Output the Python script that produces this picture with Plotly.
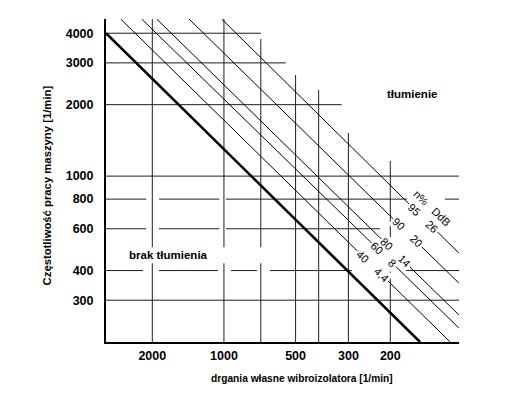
import numpy as np
import plotly.graph_objects as go

# ---- tick labels ----
x_ticks = [2000, 1000, 500, 300, 200]
y_ticks = [300, 400, 600, 800, 1000, 2000, 3000, 4000]

# ---- isolation lines (efficiency n %, attenuation D dB) ----
eff_pct = ["40", "60", "80", "90", "95"]
att_db = ["4,4", "8", "14", "20", "26"]
line_x_start = [2715, 2216, 1916, 1402, 1022]
line_y_start = [4590, 4590, 4590, 4590, 4590]
line_x_end = [112, 103, 103, 103, 103]
line_y_end = [200, 229, 260, 354, 474]
label_x = [237.6, 212.6, 191.0, 170.0, 145.7]
header_x, header_y = 133.6, 734

# ---- resonance line (brak tłumienia) ----
res_x = [3130, 150]
res_y = [4000, 200]

# ---- grid segments ----
grid_h = {
    4000: [(3500, 700)],
    3000: [(3500, 550)],
    2000: [(3500, 320)],
    1000: [(3500, 90)],
    800: [(3500, 2120), (1874, 1046), (980, 170), (118, 90)],
    600: [(3500, 2120), (1874, 1046), (980, 221)],
    400: [(3500, 2188), (1874, 1059), (934, 726), (640, 290), (173, 90)],
    300: [(3500, 90)],
}
grid_v = {2000: 5000, 1000: 5000, 700: 3782, 500: 2667, 400: 2306, 300: 1519, 200: 1158}

X_RANGE = [3130, 102.9]
Y_RANGE = [200, 4592]

fig = go.Figure()

# grid
gx, gy = [], []
for yv, segs in grid_h.items():
    for a, b in segs:
        gx += [a, b, None]
        gy += [yv, yv, None]
for xv, top in grid_v.items():
    gx += [xv, xv, None]
    gy += [150, top, None]
fig.add_trace(go.Scatter(x=gx, y=gy, mode="lines", line=dict(color="#1e1e1e", width=1),
                         hoverinfo="skip"))

# isolation lines
for i in range(len(eff_pct)):
    fig.add_trace(go.Scatter(x=[line_x_start[i], line_x_end[i]], y=[line_y_start[i], line_y_end[i]],
                             mode="lines", line=dict(color="black", width=1), hoverinfo="skip"))

# resonance line
fig.add_trace(go.Scatter(x=res_x, y=res_y, mode="lines", line=dict(color="black", width=2.6),
                         hoverinfo="skip"))

def on_line(i, xv):
    lx0, lx1 = np.log10(line_x_start[i]), np.log10(line_x_end[i])
    ly0, ly1 = np.log10(line_y_start[i]), np.log10(line_y_end[i])
    t = (np.log10(xv) - lx0) / (lx1 - lx0)
    return ly0 + t * (ly1 - ly0)

FONT = "Liberation Sans, Arial, sans-serif"
NB = "\u00a0"

rows = []
for i in range(len(eff_pct)):
    rows.append((np.log10(label_x[i]), on_line(i, label_x[i]), eff_pct[i] + NB * 4 + att_db[i]))
rows.append((np.log10(header_x), np.log10(header_y), "n%" + NB * 3 + "DdB"))

annotations = []
# white masks first (they break the lines behind the labels) ...
for x, y, t in rows:
    annotations.append(dict(x=x, y=y, xref="x", yref="y", xanchor="center", yanchor="middle",
                            text=t, showarrow=False, textangle=44,
                            font=dict(family=FONT, size=11, color="white"),
                            bgcolor="white", borderpad=1))
# ... then the label texts on top
for x, y, t in rows:
    annotations.append(dict(x=x, y=y, xref="x", yref="y", xanchor="center", yanchor="middle",
                            text=t, showarrow=False, textangle=44,
                            font=dict(family=FONT, size=11, color="black"), borderpad=1))

# region labels
annotations.append(dict(x=0.867, y=0.768, xref="paper", yref="paper", text="tłumienie",
                        xanchor="center", yanchor="middle", showarrow=False,
                        font=dict(family=FONT, size=11.5, color="black", weight="bold")))
annotations.append(dict(x=0.0595, y=0.269, xref="paper", yref="paper",
                        xanchor="left", yanchor="middle",
                        text="brak tłumienia", showarrow=False,
                        font=dict(family=FONT, size=11.5, color="black", weight="bold")))
# axis titles
annotations.append(dict(x=-0.166, y=0.486, xref="paper", yref="paper", textangle=-90,
                        xanchor="center", yanchor="middle",
                        text="Częstotliwość pracy maszyny [1/min]", showarrow=False,
                        font=dict(family=FONT, size=11.3, color="black", weight="bold")))
annotations.append(dict(x=0.5556, y=-0.1125, xref="paper", yref="paper",
                        xanchor="center", yanchor="middle",
                        text="drgania własne wibroizolatora [1/min]", showarrow=False,
                        font=dict(family=FONT, size=10.2, color="black", weight="bold")))

shapes = [dict(type="rect", xref="paper", yref="paper", x0=0.02, x1=0.45, y0=0.244, y1=0.2935,
               fillcolor="white", line=dict(width=0), layer="above")]

tickfont = dict(family=FONT, size=12.5, color="black", weight="bold")

# page has an 8px body margin, so the figure is sized to fit inside the window
fig.update_layout(
    width=503, height=379,
    margin=dict(l=98, r=52, t=11, b=45, pad=0),
    plot_bgcolor="white", paper_bgcolor="white",
    showlegend=False,
    annotations=annotations, shapes=shapes,
)
fig.update_xaxes(type="log", range=[np.log10(X_RANGE[0]), np.log10(X_RANGE[1])],
                 tickvals=x_ticks, ticktext=[str(v) for v in x_ticks],
                 showgrid=False, zeroline=False, showline=True, linecolor="black", linewidth=2,
                 ticks="", ticklabelstandoff=1, tickfont=tickfont)
fig.update_yaxes(type="log", range=[np.log10(Y_RANGE[0]), np.log10(Y_RANGE[1])],
                 tickvals=y_ticks, ticktext=[str(v) for v in y_ticks],
                 showgrid=False, zeroline=False, showline=True, linecolor="black", linewidth=2,
                 ticks="", ticklabelstandoff=8, tickfont=tickfont)

fig.write_html("out.html")
